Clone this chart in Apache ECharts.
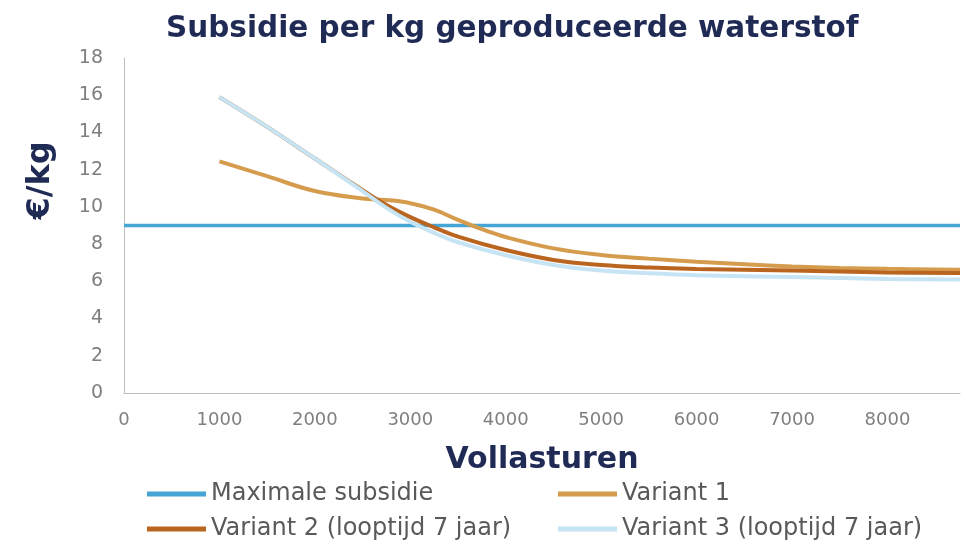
<!DOCTYPE html>
<html>
<head>
<meta charset="utf-8">
<script src="https://cdn.jsdelivr.net/npm/echarts@6/dist/echarts.min.js"></script>
<style>html,body{margin:0;padding:0;background:#fff}#c{width:966px;height:545px}</style>
</head>
<body>
<div id="c"></div>
<script>
const titleText = 'Subsidie per kg geproduceerde waterstof';
const xName = 'Vollasturen';
const yName = '€/kg';
const seriesNames = ['Maximale subsidie', 'Variant 1', 'Variant 2 (looptijd 7 jaar)', 'Variant 3 (looptijd 7 jaar)'];

const maxX = [0, 8760];
const maxY = [9, 9];

const v1X = [1000, 1500, 2000, 2500, 2750, 3000, 3250, 3500, 3750, 4000, 4500, 5000, 5500, 6000, 6500, 7000, 7500, 8000, 8760];
const v1Y = [12.45, 11.65, 10.85, 10.45, 10.37, 10.2, 9.85, 9.3, 8.8, 8.38, 7.77, 7.42, 7.22, 7.05, 6.92, 6.8, 6.72, 6.67, 6.62];

const v2X = [1000, 1500, 2000, 2500, 2750, 3000, 3250, 3500, 4000, 4500, 5000, 5500, 6000, 7000, 8000, 8760];
const v2Y = [15.9, 14.3, 12.6, 10.9, 10.1, 9.45, 8.9, 8.4, 7.68, 7.15, 6.88, 6.74, 6.66, 6.58, 6.48, 6.45];

const v3X = [1000, 1500, 2000, 2500, 2750, 3000, 3250, 3500, 4000, 4500, 5000, 5500, 6000, 7000, 8000, 8760];
const v3Y = [15.9, 14.3, 12.6, 10.85, 9.95, 9.2, 8.6, 8.1, 7.4, 6.88, 6.58, 6.43, 6.33, 6.23, 6.13, 6.1];

const colors = ['#45a5d4', '#d59c4e', '#b9651f', '#c6e4f4'];

function pairs(xs, ys) { return xs.map((x, i) => [x, ys[i]]); }

const chart = echarts.init(document.getElementById('c'));
const legendText = { fontFamily: 'DejaVu Sans', fontSize: 24, color: '#595959' };
const legendBase = { orient: 'vertical', top: 482, height: 64, itemWidth: 59, itemHeight: 5, itemGap: 11, icon: 'rect', textStyle: legendText, padding: 0 };
chart.setOption({
  animation: false,
  title: {
    text: titleText,
    left: 161, top: 9,
    textStyle: { fontFamily: 'DejaVu Sans', fontWeight: 'bold', fontSize: 29.5, color: '#1f2a55' }
  },
  legend: [
    Object.assign({ data: [seriesNames[0], seriesNames[2]], left: 147 }, legendBase),
    Object.assign({ data: [seriesNames[1], seriesNames[3]], left: 558 }, legendBase)
  ],
  grid: { left: 124, right: 6, top: 58, bottom: 152, containLabel: false },
  xAxis: {
    type: 'value', min: 0, max: 8760, interval: 1000,
    name: xName, nameLocation: 'middle', nameGap: 52,
    nameTextStyle: { fontFamily: 'DejaVu Sans', fontWeight: 'bold', fontSize: 30, color: '#1f2a55' },
    axisLine: { show: true, lineStyle: { color: '#bfbfbf', width: 1 } },
    axisTick: { show: false },
    splitLine: { show: false },
    axisLabel: { showMaxLabel: false, margin: 18, formatter: v => String(v), fontFamily: 'DejaVu Sans', fontSize: 18, color: '#7f7f7f' }
  },
  yAxis: {
    type: 'value', min: 0, max: 18, interval: 2,
    name: yName, nameLocation: 'middle', nameGap: 67, nameRotate: 90,
    nameTextStyle: { fontFamily: 'DejaVu Sans', fontWeight: 'bold', fontSize: 32, color: '#1f2a55', padding: [0, 0, 0, 90] },
    axisLine: { show: true, lineStyle: { color: '#bfbfbf', width: 1 } },
    axisTick: { show: false },
    splitLine: { show: false },
    axisLabel: { margin: 21, fontFamily: 'DejaVu Sans', fontSize: 19, color: '#7f7f7f' }
  },
  series: [
    { name: seriesNames[0], type: 'line', data: pairs(maxX, maxY), showSymbol: false, lineStyle: { color: colors[0], width: 3.5 }, itemStyle: { color: colors[0] } },
    { name: seriesNames[1], type: 'line', data: pairs(v1X, v1Y), smooth: 0.4, showSymbol: false, lineStyle: { color: colors[1], width: 4 }, itemStyle: { color: colors[1] } },
    { name: seriesNames[2], type: 'line', data: pairs(v2X, v2Y), smooth: 0.4, showSymbol: false, lineStyle: { color: colors[2], width: 4 }, itemStyle: { color: colors[2] } },
    { name: seriesNames[3], type: 'line', data: pairs(v3X, v3Y), smooth: 0.4, showSymbol: false, lineStyle: { color: colors[3], width: 4 }, itemStyle: { color: colors[3] } }
  ]
});
</script>
</body>
</html>
